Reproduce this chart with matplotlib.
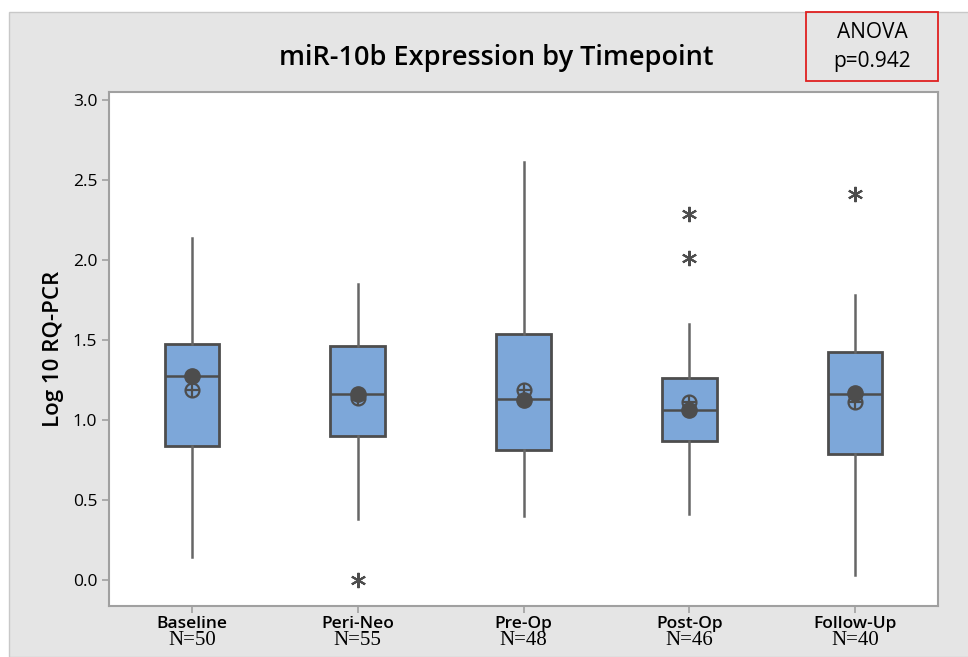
import matplotlib
matplotlib.use("Agg")
import matplotlib.pyplot as plt
from matplotlib.patches import Rectangle

# ── data ──────────────────────────────────────────────────────
groups = ['Baseline', 'Peri-Neo', 'Pre-Op', 'Post-Op', 'Follow-Up']
n_obs = [50, 55, 48, 46, 40]
q1 = [0.84, 0.90, 0.81, 0.87, 0.79]
median = [1.275, 1.16, 1.13, 1.06, 1.165]
q3 = [1.475, 1.465, 1.54, 1.265, 1.425]
whisk_lo = [0.145, 0.38, 0.40, 0.41, 0.03]
whisk_hi = [2.14, 1.85, 2.61, 1.60, 1.78]
outliers = [[], [0.0], [], [2.01, 2.29], [2.41]]
means = [1.19, 1.14, 1.185, 1.115, 1.11]        # circle-plus symbol
dots = [1.275, 1.16, 1.125, 1.06, 1.17]         # filled circle
anova_p = 0.942

BOX_FILL = '#7da7d9'
DARK = '#4d4d4d'
GRAY_BG = '#e5e5e5'

fig = plt.figure(figsize=(9.68, 6.57), dpi=100, facecolor='white')
# grey panel behind everything (white strip at top/left as in the original)
fig.patches.append(Rectangle((9 / 968, 0), 1, 1 - 12 / 657, transform=fig.transFigure,
                             facecolor=GRAY_BG, edgecolor='#c8c8c8', lw=1.0, zorder=-5))

ax = fig.add_axes([109 / 968, 51 / 657, 829 / 968, 514 / 657])
ax.set_facecolor('white')

pos = list(range(1, len(groups) + 1))
stats = []
for i, g in enumerate(groups):
    stats.append(dict(label=g, q1=q1[i], med=median[i], q3=q3[i],
                      whislo=whisk_lo[i], whishi=whisk_hi[i], fliers=outliers[i]))

ax.bxp(stats, positions=pos, widths=0.33, patch_artist=True, showcaps=False,
       boxprops=dict(facecolor=BOX_FILL, edgecolor=DARK, linewidth=2),
       medianprops=dict(color=DARK, linewidth=1.8),
       whiskerprops=dict(color='#666666', linewidth=1.8),
       flierprops=dict(marker=(6, 2, 0), markersize=11, markeredgecolor=DARK,
                       markeredgewidth=1.5, linestyle='none'))

ax.plot(pos, dots, 'o', color=DARK, markersize=11, zorder=5)
ax.plot(pos, means, 'o', markerfacecolor='none', markeredgecolor=DARK,
        markeredgewidth=1.6, markersize=10, zorder=6)
ax.plot(pos, means, '+', color=DARK, markeredgewidth=1.6, markersize=10, zorder=6)

ax.set_xlim(0.5, 5.5)
ax.set_ylim(-0.1625, 3.05)
ax.set_yticks([0.0, 0.5, 1.0, 1.5, 2.0, 2.5, 3.0])
ax.set_yticklabels(['0.0', '0.5', '1.0', '1.5', '2.0', '2.5', '3.0'],
                   fontsize=12.5, family='Open Sans')
ax.set_xticks(pos)
ax.set_xticklabels(groups, fontsize=12.5, family='Open Sans', fontweight='semibold')
ax.tick_params(axis='both', color='#a0a0a0', length=5, width=1.2, direction='out')
ax.tick_params(axis='x', pad=2)
for sp in ax.spines.values():
    sp.set_color('#a0a0a0')
    sp.set_linewidth(1.5)

for p, n in zip(pos, n_obs):
    ax.annotate(f'N={n}', xy=(p, 0), xycoords=('data', 'axes fraction'),
                xytext=(0, -18), textcoords='offset points', ha='center', va='top',
                fontsize=15, family='Liberation Serif', linespacing=1)

ax.set_ylabel('Log 10 RQ-PCR', fontsize=16, family='Open Sans', fontweight='semibold',
              labelpad=6)

fig.text(0.513, 0.912, 'miR-10b Expression by Timepoint', ha='center', va='center',
         fontsize=19.5, family='Open Sans', fontweight='semibold')

fig.patches.append(Rectangle((806 / 968, 1 - 81 / 657), 132 / 968, 69 / 657,
                             transform=fig.transFigure, facecolor='none',
                             edgecolor='#e02020', lw=1.3, zorder=3))
fig.text(872 / 968, 1 - 33 / 657, 'ANOVA', ha='center', va='center',
         fontsize=15, family='Open Sans')
fig.text(872 / 968, 1 - 61 / 657, f'p={anova_p}', ha='center', va='center',
         fontsize=15, family='Open Sans')

fig.savefig('out.png', dpi=100, facecolor=fig.get_facecolor())
